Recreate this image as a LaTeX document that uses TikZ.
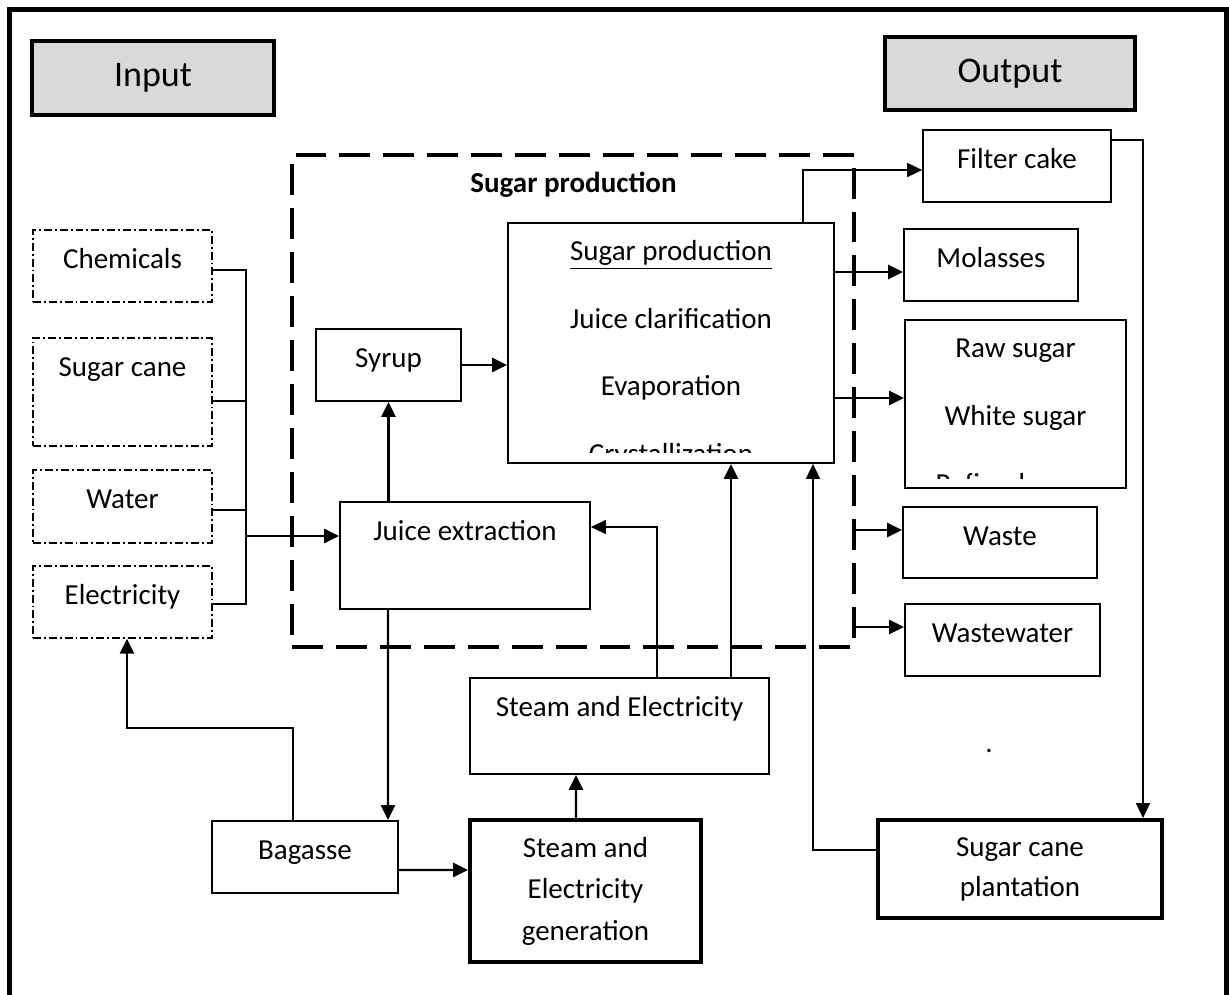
\documentclass[tikz,border=0pt]{standalone}
\usepackage{fontspec}
\setmainfont{Carlito}
\usetikzlibrary{arrows.meta}
\definecolor{headgray}{HTML}{D9D9D9}

\begin{document}
\begin{tikzpicture}[font=\fontsize{16.5pt}{19.8pt}\selectfont,
    arr/.style={-{Triangle[length=0.3cm,width=0.28cm]},line width=1.4pt},
    thinarr/.style={arr,line width=0.95pt},
    wire/.style={line width=0.9pt}]
\useasboundingbox (0,0) rectangle (24.58,-19.9);
\draw[line width=2.3pt] (0.19,-19.9) -- (0.19,-0.19) -- (24.53,-0.19) -- (24.53,-19.9);

\begin{scope}[every node/.style={draw,fill=headgray,line width=2pt,minimum height=1.48cm,font=\fontsize{20.5pt}{24pt}\selectfont}]
    \node (input)[minimum width=4.84cm] at (3.06,-1.56) {Input};
    \node (output)[minimum width=5cm,minimum height=1.46cm] at (20.2,-1.47) {Output};
\end{scope}

\node (frame)[draw,line width=2.3pt,dash pattern=on 17.6pt off 7.4pt,minimum width=11.24cm,minimum height=9.84cm] at (11.46,-8.02) {};
\node (frametitle)[anchor=base,font=\fontsize{16.5pt}{19.8pt}\selectfont\bfseries] at (11.47,-3.86) {Sugar production};

\begin{scope}[every node/.style={draw,line width=0.75pt,dash pattern=on 4.5pt off 1.7pt on 1.1pt off 1.7pt,
              inner sep=0pt,minimum width=3.58cm,text height=0.77cm,text depth=0.67cm}]
    \node (chem) at (2.45,-5.32) {Chemicals};
    \node (cane)[text depth=1.39cm] at (2.45,-7.84) {Sugar cane};
    \node (water)[text depth=0.69cm] at (2.45,-10.13) {Water};
    \node (elec) at (2.45,-12.04) {Electricity};
\end{scope}

\begin{scope}[every node/.style={draw,line width=1pt,inner sep=0pt,text height=0.77cm,text depth=0.67cm}]
    \node (syrup)[minimum width=2.9cm] at (7.77,-7.3) {Syrup};
    \node (juice)[minimum width=5cm,text depth=1.37cm] at (9.3,-11.11) {Juice extraction};
    \node (sugarbox)[minimum width=6.52cm,text depth=4.03cm] at (13.42,-6.86) {};
    \node (steam)[minimum width=5.98cm,text depth=1.15cm] at (12.39,-14.52) {Steam and Electricity};
    \node (bagasse)[minimum width=3.72cm] at (6.1,-17.14) {Bagasse};
    \node (filter)[minimum width=3.76cm] at (20.34,-3.32) {Filter cake};
    \node (molasses)[minimum width=3.48cm] at (19.82,-5.3) {Molasses};
    \node (rawbox)[minimum width=4.42cm,text depth=2.59cm] at (20.31,-8.08) {};
    \node (waste)[minimum width=3.88cm,text depth=0.65cm] at (20,-10.85) {Waste};
    \node (wastewater)[minimum width=3.9cm] at (20.05,-12.8) {Wastewater};
\end{scope}

\begin{scope}[every node/.style={draw,line width=2.2pt,align=center}]
    \node (gen)[minimum width=4.62cm,minimum height=2.84cm,font=\fontsize{16.5pt}{23.6pt}\selectfont] at (11.71,-17.82) {Steam and\\Electricity\\generation};
    \node (plant)[minimum width=5.68cm,minimum height=1.96cm,font=\fontsize{16.5pt}{22.8pt}\selectfont] at (20.4,-17.38) {Sugar cane\\plantation};
\end{scope}

\begin{scope}
    \clip ([yshift=0.22cm]sugarbox.south west) rectangle (sugarbox.north east);
    \node (steps)[anchor=base,inner sep=0pt] at ([yshift=-0.77cm]sugarbox.north)
        {\begin{tabular}[t]{c}\underline{Sugar production}\\[18.6pt]Juice clarification\\[18.6pt]Evaporation\\[18.6pt]Crystallization\end{tabular}};
\end{scope}
\begin{scope}
    \clip ([yshift=0.2cm]rawbox.south west) rectangle (rawbox.north east);
    \node (sugars)[anchor=base,inner sep=0pt] at ([yshift=-0.76cm]rawbox.north)
        {\begin{tabular}[t]{c}Raw sugar\\[18.9pt]White sugar\\[18.9pt]Refined sugar\end{tabular}};
\end{scope}

\node (dot)[anchor=base,inner sep=0pt] at (19.78,-15.06) {.};

\coordinate (bus) at (4.92,-10.72);
\draw[wire] ([yshift=-0.08cm]chem.east) -| (bus);
\draw[wire] ([yshift=-0.18cm]cane.east) -| (bus);
\draw[wire] ([yshift=-0.07cm]water.east) -| (bus);
\draw[wire] ([yshift=-0.04cm]elec.east) -| (bus);
\draw[arr] (bus) -- (bus -| juice.west);

\draw[arr] (syrup.south |- juice.north) -- (syrup.south);
\draw[arr] (syrup.east) -- (syrup.east -| sugarbox.west);
\draw[thinarr] ([xshift=2.64cm]sugarbox.north) |- ([yshift=-0.08cm]filter.west);

\coordinate (m1) at ([yshift=-0.14cm]molasses.west);
\coordinate (r1) at ([yshift=0.12cm]rawbox.west);
\coordinate (w1) at ([yshift=0.25cm]waste.west);
\coordinate (w2) at ([yshift=0.26cm]wastewater.west);
\draw[arr] (m1 -| sugarbox.east) -- (m1);
\draw[arr] (r1 -| sugarbox.east) -- (r1);
\draw[arr] (w1 -| frame.east) -- (w1);
\draw[arr] (w2 -| frame.east) -- (w2);

\draw[thinarr] ([yshift=0.52cm]filter.east) -| ([xshift=2.46cm]plant.north);
\draw[thinarr] ([yshift=0.38cm]plant.west) -| ([xshift=2.84cm]sugarbox.south);

\coordinate (s1) at ([xshift=2.23cm]steam.north);
\draw[arr] (s1) -- (s1 |- sugarbox.south);
\draw[thinarr] ([xshift=0.75cm]steam.north) |- ([yshift=0.57cm]juice.east);
\draw[arr] ([xshift=-1.54cm]juice.south) -- ([xshift=1.66cm]bagasse.north);
\draw[arr] ([yshift=-0.26cm]bagasse.east) -- ([yshift=0.42cm]gen.west);
\draw[arr] ([xshift=-0.19cm]gen.north) -- ([xshift=-0.87cm]steam.south);
\draw[arr] ([xshift=-0.24cm]bagasse.north) -- ++(0,1.84) -| ([xshift=0.09cm]elec.south);
\end{tikzpicture}
\end{document}
